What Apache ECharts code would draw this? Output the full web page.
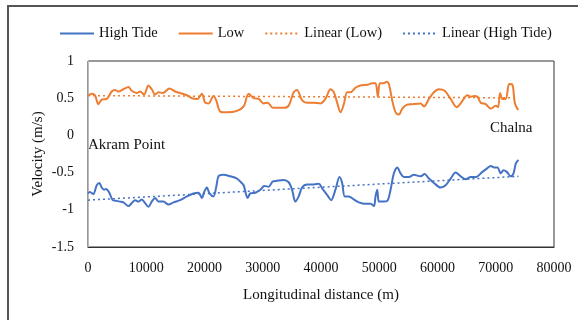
<!DOCTYPE html>
<html><head><meta charset="utf-8">
<script src="https://cdn.jsdelivr.net/npm/echarts@6/dist/echarts.min.js"></script>
<style>html,body{margin:0;padding:0;background:#fff}#c{width:578px;height:320px}</style>
</head><body><div id="c"></div>
<script>
const xTicks = [0,10000,20000,30000,40000,50000,60000,70000,80000];
const yTicks = [-1.5,-1,-0.5,0,0.5,1];
const lowX = [0,640,1200,1770,2350,3210,4070,4640,5220,6080,6940,7510,8370,8940,9630,10370,10950,11520,12100,12840,13990,14960,15820,16970,17830,18800,19550,20120,20700,21550,22020,22700,23860,25580,26720,27570,28430,29300,30150,30840,31760,33600,34450,35310,35880,36760,37610,38760,39900,40760,41620,42200,42770,43340,43920,44490,45060,45920,46780,47940,48800,49360,49760,50100,50690,51260,51650,52230,52800,53370,53950,54700,55660,57100,57670,58530,59390,60250,61230,62260,63300,63980,65140,65700,66270,66860,67420,68280,69140,70000,70400,70750,71150,71720,72300,72870,73270,73840];
const lowY = [0.53,0.56,0.54,0.42,0.48,0.49,0.59,0.61,0.59,0.62,0.65,0.60,0.57,0.59,0.55,0.67,0.62,0.55,0.58,0.57,0.63,0.59,0.57,0.54,0.50,0.49,0.56,0.44,0.43,0.53,0.47,0.32,0.31,0.33,0.39,0.56,0.50,0.49,0.43,0.44,0.37,0.37,0.40,0.58,0.61,0.47,0.44,0.44,0.43,0.49,0.62,0.58,0.44,0.31,0.42,0.58,0.58,0.64,0.67,0.68,0.70,0.70,0.52,0.70,0.70,0.72,0.69,0.47,0.31,0.28,0.36,0.41,0.42,0.43,0.39,0.49,0.58,0.62,0.60,0.49,0.38,0.43,0.54,0.52,0.53,0.52,0.44,0.42,0.36,0.40,0.38,0.57,0.49,0.49,0.69,0.68,0.44,0.34];
const highX = [0,340,910,1500,1950,2350,2750,3100,3660,4240,4930,5500,6080,6940,7510,8080,8650,9230,9800,10380,10950,11520,12100,12950,13810,14670,15820,16970,18110,18970,19550,19950,20410,20870,21550,22020,22410,23270,24420,25580,26140,26720,27400,27860,28720,29580,30270,31010,31700,32450,33600,34450,35030,35600,36170,36750,37610,38760,39620,40190,41050,41740,42480,43170,43630,44080,44770,45630,46490,47640,48500,49080,49360,49650,49940,50510,51380,51940,52510,53090,53660,54230,55090,55950,57100,57790,58530,59390,60540,61400,62260,63120,63980,64840,65700,66560,67710,68570,69140,69720,70290,70860,71320,71890,72580,73050,73440,73900];
const highY = [-0.78,-0.76,-0.79,-0.67,-0.64,-0.70,-0.73,-0.72,-0.77,-0.87,-0.88,-0.89,-0.90,-0.95,-0.91,-0.87,-0.89,-0.86,-0.91,-0.96,-0.89,-0.84,-0.89,-0.89,-0.93,-0.90,-0.87,-0.82,-0.78,-0.77,-0.84,-0.76,-0.70,-0.78,-0.82,-0.69,-0.55,-0.53,-0.55,-0.58,-0.62,-0.67,-0.84,-0.78,-0.77,-0.73,-0.68,-0.69,-0.62,-0.61,-0.60,-0.63,-0.73,-0.89,-0.82,-0.70,-0.66,-0.66,-0.65,-0.71,-0.80,-0.87,-0.73,-0.56,-0.64,-0.82,-0.82,-0.86,-0.90,-0.92,-0.92,-0.95,-0.82,-0.73,-0.89,-0.89,-0.88,-0.73,-0.51,-0.43,-0.51,-0.56,-0.56,-0.53,-0.55,-0.52,-0.58,-0.64,-0.70,-0.67,-0.58,-0.50,-0.55,-0.59,-0.56,-0.56,-0.49,-0.44,-0.41,-0.43,-0.43,-0.51,-0.47,-0.49,-0.55,-0.51,-0.38,-0.33];
const lowTrendX = [0,73840];
const lowTrendY = [0.535,0.505];
const highTrendX = [0,73900];
const highTrendY = [-0.87,-0.55];

const BLUE = '#4472C4', ORANGE = '#ED7D31';
const FONT = '"Liberation Serif", "DejaVu Serif", serif';
const zip = (a,b) => a.map((v,i)=>[v,b[i]]);

const chart = echarts.init(document.getElementById('c'), null, {renderer:'canvas'});
chart.setOption({
  animation:false,
  textStyle:{fontFamily:FONT},
  legend:{
    top:21, left:54, itemWidth:34, itemHeight:10, itemGap:20,
    itemStyle:{opacity:0},
    textStyle:{fontFamily:FONT, fontSize:14.5, color:'#111'},
    data:['High Tide','Low','Linear (Low)','Linear (High Tide)']
  },
  grid:{left:88, right:24, top:61, bottom:73, show:true, borderColor:'#333', borderWidth:1, backgroundColor:'#fff'},
  xAxis:{
    type:'value', min:0, max:80000, interval:10000,
    name:'Longitudinal distance (m)', nameLocation:'middle', nameGap:41, nameMoveOverlap:false,
    nameTextStyle:{fontFamily:FONT, fontSize:15, color:'#111'},
    axisLine:{show:true, onZero:false, lineStyle:{color:'#333'}}, axisTick:{show:false}, splitLine:{show:false},
    axisLabel:{fontFamily:FONT, fontSize:14, color:'#111', margin:14, formatter:v=>String(v)}
  },
  yAxis:{
    type:'value', min:-1.5, max:1, interval:0.5,
    name:'Velocity (m/s)', nameLocation:'middle', nameGap:42, nameMoveOverlap:false,
    nameTextStyle:{fontFamily:FONT, fontSize:15, color:'#111'},
    axisLine:{show:true, onZero:false, lineStyle:{color:'#bbb'}}, axisTick:{show:false}, splitLine:{show:false},
    axisLabel:{fontFamily:FONT, fontSize:14, color:'#111', margin:14, formatter:v=>String(v)}
  },
  graphic:[
    {type:'rect', shape:{x:8, y:6, width:640, height:400}, style:{fill:'none', stroke:'#555', lineWidth:2}, silent:true, z:-10},
    {type:'text', left:88, top:138, style:{text:'Akram Point', font:'15px "Liberation Serif"', fill:'#111'}},
    {type:'text', left:490, top:121, style:{text:'Chalna', font:'15px "Liberation Serif"', fill:'#111'}}
  ],
  series:[
    {name:'High Tide', type:'line', data:zip(highX,highY), showSymbol:false, symbol:'none', smooth:0.3, lineStyle:{color:BLUE, width:2}, itemStyle:{color:BLUE}, z:3},
    {name:'Low', type:'line', data:zip(lowX,lowY), showSymbol:false, symbol:'none', smooth:0.3, lineStyle:{color:ORANGE, width:2}, itemStyle:{color:ORANGE}, z:3},
    {name:'Linear (Low)', type:'line', data:zip(lowTrendX,lowTrendY), showSymbol:false, symbol:'none', lineStyle:{color:ORANGE, width:1.5, type:[2,3]}, itemStyle:{color:ORANGE}, z:2},
    {name:'Linear (High Tide)', type:'line', data:zip(highTrendX,highTrendY), showSymbol:false, symbol:'none', lineStyle:{color:BLUE, width:1.5, type:[2,3]}, itemStyle:{color:BLUE}, z:2}
  ]
});
</script></body></html>
